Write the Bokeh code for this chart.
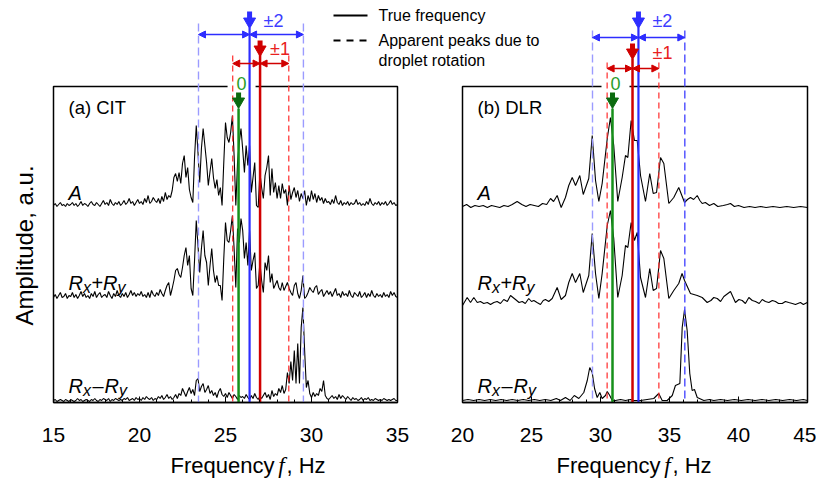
import math
from bokeh.plotting import figure
from bokeh.models import Range1d, LinearAxis, FixedTicker, Arrow, NormalHead, ColumnDataSource
from bokeh.core.properties import value
from bokeh.embed import file_html
from bokeh.resources import INLINE

# ---------------------------------------------------------------- data
# (a) CIT spectra: one amplitude value (a.u.) every 0.1 Hz from 15 Hz to 35 Hz
CIT_F0 = 15.0
CIT_DF = 0.1
CIT_A = [
    2, 4, 1, 3, 5, 2, 3, 1, 4, 2,
    3, 5, 2, 4, 1, 3, 6, 2, 4, 3,
    1, 4, 6, 3, 2, 5, 3, 1, 4, 7,
    3, 5, 2, 8, 4, 2, 5, 3, 6, 2,
    4, 7, 3, 5, 9, 4, 6, 2, 5, 8,
    4, 6, 3, 9, 5, 12, 4, 6, 10, 7,
    5, 9, 4, 11, 6, 15, 8, 12, 10, 17,
    30, 34, 26, 35, 24, 44, 52, 30, 40, 18,
    10, 5, 50, 82, 55, 25, 59, 79, 62, 45,
    22, 36, 49, 30, 19, 28, 12, 20, 2, 45,
    85, 70, 65, 75, 92, 52, 2, 45, 65, 79,
    58, 35, 62, 42, 62, 15, 30, 45, 2, 0,
    35, 20, 9, 32, 40, 52, 12, 39, 15, 25,
    9, 22, 9, 24, 14, 18, 2, 22, 8, 15,
    20, 10, 17, 6, 14, 9, 17, 2, 12, 6,
    17, 8, 14, 5, 12, 7, 10, 4, 9, 5,
    6, 3, 8, 4, 12, 5, 3, 7, 2, 5,
    3, 6, 2, 5, 3, 4, 8, 3, 5, 2,
    4, 2, 6, 3, 9, 4, 2, 5, 3, 6,
    2, 5, 3, 6, 2, 4, 7, 3, 5, 2,
    3,
]
CIT_RXPRY = [
    3, 6, 2, 5, 8, 3, 4, 7, 2, 5,
    4, 8, 3, 6, 2, 5, 9, 4, 7, 3,
    5, 2, 7, 4, 9, 3, 6, 8, 3, 5,
    6, 3, 9, 5, 2, 7, 4, 10, 5, 3,
    7, 4, 8, 3, 6, 10, 5, 8, 4, 7,
    5, 9, 4, 6, 3, 8, 3, 10, 6, 4,
    8, 5, 11, 7, 4, 10, 15, 18, 5, 12,
    20, 30, 32, 26, 23, 33, 45, 53, 35, 45,
    12, 5, 40, 80, 55, 28, 52, 70, 45, 38,
    15, 35, 52, 30, 18, 25, 15, 15, 0, 42,
    78, 60, 58, 70, 85, 52, 13, 72, 58, 82,
    70, 42, 58, 35, 70, 30, 40, 48, 12, 15,
    38, 20, 8, 38, 30, 45, 18, 27, 12, 16,
    20, 13, 10, 18, 10, 14, 18, 12, 8, 5,
    15, 18, 7, 2, 10, 25, 2, 4, 8, 13,
    10, 8, 13, 15, 6, 9, 11, 4, 7, 10,
    6, 9, 4, 8, 12, 5, 7, 3, 9, 5,
    7, 4, 10, 5, 3, 8, 6, 4, 9, 3,
    5, 8, 3, 7, 4, 10, 5, 3, 7, 4,
    6, 3, 8, 4, 6, 3, 9, 5, 8, 4,
    3,
]
CIT_RXMRY = [
    1, 2, 0, 1, 2, 1, 0, 2, 1, 0,
    2, 1, 0, 1, 3, 1, 2, 0, 1, 2,
    1, 0, 2, 1, 3, 1, 0, 2, 1, 3,
    2, 1, 3, 0, 2, 1, 3, 2, 1, 2,
    1, 3, 2, 4, 1, 2, 3, 1, 4, 2,
    3, 1, 4, 2, 5, 3, 2, 4, 1, 3,
    2, 5, 3, 6, 2, 4, 7, 3, 5, 2,
    4, 7, 3, 8, 6, 13, 9, 5, 10, 14,
    8, 12, 6, 21, 23, 10, 15, 18, 9, 12,
    16, 8, 11, 6, 9, 4, 10, 13, 7, 5,
    8, 4, 9, 6, 3, 7, 5, 2, 6, 4,
    5, 3, 7, 4, 2, 6, 3, 8, 4, 2,
    5, 3, 6, 9, 4, 7, 2, 11, 5, 8,
    6, 13, 9, 16, 8, 12, 29, 18, 40, 21,
    51, 18, 58, 18, 74, 94, 51, 14, 21, 8,
    4, 9, 5, 8, 6, 13, 10, 21, 6, 3,
    2, 4, 6, 3, 5, 2, 7, 3, 6, 4,
    2, 5, 3, 1, 4, 2, 3, 1, 2, 4,
    1, 3, 2, 4, 1, 2, 1, 3, 2, 1,
    2, 1, 3, 2, 1, 2, 1, 2, 3, 1,
    1,
]
CIT_OFFSETS = [195, 102, 1]          # vertical offset of A, Rx+Ry, Rx-Ry

# (b) DLR spectra: frequency (Hz) / amplitude (a.u.) pairs
DLR_A_F = [
    20.0, 20.3, 20.6, 20.9, 21.2, 21.5, 21.8, 22.1, 22.4, 22.7,
    23.0, 23.3, 23.6, 23.96, 24.3, 24.6, 24.9, 25.2, 25.5, 25.8,
    26.1, 26.38, 26.6, 26.86, 27.15, 27.46, 27.70, 27.95, 28.19, 28.50,
    28.75, 29.15, 29.40, 29.64, 29.88, 30.12, 30.49, 30.72, 30.96, 31.25,
    31.57, 31.81, 31.98, 32.22, 32.46, 32.66, 32.90, 33.26, 33.57, 33.82,
    34.06, 34.35, 34.59, 34.95, 35.31, 35.67, 36.09, 36.3, 36.52, 36.75,
    37.01, 37.2, 37.37, 37.6, 37.9, 38.21, 38.5, 38.9, 39.2, 39.42,
    39.7, 40.0, 40.4, 40.8, 41.2, 41.6, 42.0, 42.5, 43.0, 43.5,
    44.0, 44.5, 45.0,
]
DLR_A = [
    2, 4, 1, 3, 2, 3, 1, 3, 2, 1,
    3, 2, 4, 7, 4, 2, 4, 3, 2, 5,
    4, 10, 7, 13, 1, 11, 23, 31, 23, 33,
    14, 30, 73, 28, 7, 25, 70, 91, 63, 7,
    31, 53, 51, 88, 68, 68, 33, 7, 35, 15,
    16, 51, 45, 5, 11, 21, 6, 9, 11, 9,
    13, 8, 5, 6, 3, 5, 2, 3, 4, 5,
    2, 3, 1, 2, 1, 2, 1, 2, 1, 2,
    1, 2, 1,
]
DLR_RXPRY_F = [
    20.0, 20.34, 20.58, 20.82, 21.07, 21.3, 21.54, 21.8, 22.03, 22.27,
    22.51, 22.75, 22.99, 23.25, 23.48, 23.84, 24.1, 24.33, 24.55, 24.80,
    25.0, 25.17, 25.4, 25.65, 25.85, 26.01, 26.25, 26.50, 26.86, 27.15,
    27.46, 27.70, 27.95, 28.19, 28.50, 28.75, 29.15, 29.40, 29.64, 29.88,
    30.12, 30.49, 30.72, 30.96, 31.25, 31.57, 31.81, 31.98, 32.22, 32.46,
    32.66, 32.90, 33.26, 33.57, 33.82, 34.06, 34.35, 34.59, 34.95, 35.31,
    35.67, 35.91, 36.09, 36.52, 37.01, 37.37, 37.73, 38.0, 38.21, 38.46,
    38.70, 38.94, 39.42, 39.78, 40.03, 40.27, 40.5, 40.75, 41.0, 41.23,
    41.5, 41.72, 41.95, 42.20, 42.45, 42.68, 42.9, 43.17, 43.4, 43.64,
    43.9, 44.13, 44.3, 44.49, 44.7, 44.98,
]
DLR_RXPRY = [
    0, 8, 3, 8, 3, 4, 2, 3, 1, 3,
    4, 2, 6, 4, 10, 6, 3, 4, 2, 7,
    4, 5, 3, 1, 5, 6, 4, 7, 18, 6,
    10, 23, 32, 23, 32, 13, 30, 72, 32, 7,
    32, 80, 95, 67, 8, 30, 60, 58, 83, 65,
    73, 28, 8, 37, 15, 17, 55, 47, 7, 15,
    22, 32, 25, 12, 10, 8, 3, 5, 8, 7,
    4, 9, 14, 3, 6, 5, 2, 8, 5, 4,
    2, 6, 4, 3, 5, 4, 2, 2, 4, 3,
    2, 1, 2, 3, 1, 3,
]
DLR_RXMRY_F = [
    20.0, 20.4, 20.8, 21.2, 21.6, 22.0, 22.4, 22.8, 23.2, 23.6,
    24.0, 24.4, 24.8, 25.2, 25.6, 26.0, 26.4, 26.8, 27.1, 27.46,
    27.8, 28.1, 28.43, 28.79, 29.04, 29.22, 29.40, 29.57, 29.76, 29.95,
    30.12, 30.36, 30.49, 30.67, 30.85, 31.09, 31.45, 31.81, 32.17, 32.41,
    32.9, 33.38, 33.86, 34.22, 34.47, 34.83, 35.20, 35.43, 35.75, 35.92,
    36.09, 36.28, 36.47, 36.64, 36.81, 37.01, 37.49, 37.9, 38.21, 38.7,
    39.2, 39.7, 40.2, 40.7, 41.2, 41.7, 42.2, 42.7, 43.2, 43.7,
    44.2, 44.7, 45.0,
]
DLR_RXMRY = [
    1, 2, 1, 2, 1, 2, 1, 2, 1, 2,
    1, 2, 1, 2, 1, 2, 1, 3, 1, 4,
    1, 6, 3, 9, 21, 34, 29, 13, 4, 9,
    3, 6, 10, 6, 1, 1, 2, 1, 2, 1,
    1, 2, 3, 8, 1, 1, 6, 16, 18, 74,
    92, 71, 28, 11, 12, 4, 1, 2, 1, 2,
    1, 2, 1, 2, 1, 2, 1, 2, 1, 2,
    1, 2, 1,
]
DLR_OFFSETS = [194, 97, 1]

# true frequency of modes 0, ±1, ±2 and apparent peaks due to droplet rotation (Hz)
CIT_TRUE = {"0": 25.76, "1": 27.01, "2": 26.40}
CIT_APPARENT_1 = [25.42, 28.68]
CIT_APPARENT_2 = [23.43, 29.53]
DLR_TRUE = {"0": 30.87, "1": 32.32, "2": 32.75}
DLR_APPARENT_1 = [30.48, 34.23]
DLR_APPARENT_2 = [29.42, 36.11]

CIT_TICKS = [15, 20, 25, 30, 35]
DLR_TICKS = [20, 25, 30, 35, 40, 45]
CIT_MINOR = list(range(15, 36))
DLR_MINOR = list(range(20, 46))

# ---------------------------------------------------------------- layout (pixels)
W, H = 816, 478
AXIS_PX = 402                      # screen row of the frequency axis
CIT_BOX = (53, 397)                # screen columns of 15 Hz and 35 Hz
DLR_BOX = (462, 807)               # screen columns of 20 Hz and 45 Hz
BOX_TOP_PX = 86

FONT = value("Liberation Sans")
BLUE = "#2d2dff"
BLUE_LIGHT = "#9b9bff"
RED = "#d00000"
RED_DASH = "#ff2a2a"
GREEN = "#16901a"
GREEN_DARK = "#0b6a0f"
GREEN_TXT = "#2a9d2a"


def yv(px):
    return AXIS_PX - px


def make_range(box_px, lo, hi):
    scale = (box_px[1] - box_px[0]) / (hi - lo)
    return Range1d(lo - box_px[0] / scale, lo + (W - box_px[0]) / scale), scale


cit_range, cit_scale = make_range(CIT_BOX, CIT_TICKS[0], CIT_TICKS[-1])
dlr_range, dlr_scale = make_range(DLR_BOX, DLR_TICKS[0], DLR_TICKS[-1])


def cit_x(px):
    return CIT_TICKS[0] + (px - CIT_BOX[0]) / cit_scale


p = figure(width=W, height=H, x_range=cit_range, y_range=Range1d(yv(H), yv(0)),
           output_backend="svg", toolbar_location=None,
           x_axis_location=None, y_axis_location=None, min_border=0,
           outline_line_color=None, background_fill_color="white",
           border_fill_color="white")
p.extra_x_ranges = {"dlr": dlr_range}
p.grid.visible = False


def draw_panel(rn, lo, hi, ticks, minor, title, spectra, offsets, true_f, app1, app2,
               app2_colors, layout):
    # frame
    p.quad(left=[lo], right=[hi], bottom=[0], top=[yv(BOX_TOP_PX)], fill_color=None,
           line_color="black", line_width=1.5, x_range_name=rn)
    # "0" label interrupting the frame
    p.text(x=[true_f["0"]], y=[yv(83)], text=["0"], x_offset=3, text_align="center",
           text_baseline="middle", text_font=FONT, text_font_size="18px",
           text_color=GREEN_TXT, background_fill_color="white", padding=9,
           x_range_name=rn)
    # spectra
    for (fs, amps), off in zip(spectra, offsets):
        p.line(x=fs, y=[off + a for a in amps], line_color="black", line_width=1.1,
               x_range_name=rn)
    # apparent peaks (dashed)
    p.segment(x0=app2, x1=app2, y0=[yv(layout["b_dash_top"])] * 2, y1=[0, 0],
              line_color=app2_colors, line_width=1.4, line_dash="8 4", x_range_name=rn)
    p.segment(x0=app1, x1=app1, y0=[yv(layout["r_dash_top"])] * 2, y1=[0, 0],
              line_color=RED_DASH, line_width=1.2, line_dash="6 4", x_range_name=rn)
    # true frequencies
    p.segment(x0=[true_f["0"]], x1=[true_f["0"]], y0=[yv(108)], y1=[0],
              line_color=GREEN, line_width=2.5, x_range_name=rn)
    p.segment(x0=[true_f["2"]], x1=[true_f["2"]], y0=[yv(27)], y1=[0],
              line_color=BLUE, line_width=2.2, x_range_name=rn)
    p.segment(x0=[true_f["1"]], x1=[true_f["1"]], y0=[yv(layout["r_top"])], y1=[0],
              line_color=RED, line_width=2.5, x_range_name=rn)
    # block arrows
    for key, col, (s0, s1, tri) in (("2", BLUE, (11, 19, 21)),
                                    ("1", RED, layout["r_block"]),
                                    ("0", GREEN_DARK, (92, 99, 101))):
        p.segment(x0=[true_f[key]], x1=[true_f[key]], y0=[yv(s0)], y1=[yv(s1)],
                  line_color=col, line_width=5, x_range_name=rn)
        p.scatter(x=[true_f[key]], y=[yv(tri)], marker="inverted_triangle", size=12,
                  fill_color=col, line_color=col, x_range_name=rn)
    # double arrows
    for f_true, apps, col, ypx in ((true_f["2"], app2, BLUE, layout["b_arrow"]),
                                   (true_f["1"], app1, RED, layout["r_arrow"])):
        src = ColumnDataSource(dict(x0=[f_true, f_true], x1=apps,
                                    y=[yv(ypx), yv(ypx)]))
        p.add_layout(Arrow(x_start="x0", y_start="y", x_end="x1", y_end="y",
                           source=src, line_color=col, line_width=1.5,
                           start=NormalHead(size=7, fill_color=col, line_color=col),
                           end=NormalHead(size=7, fill_color=col, line_color=col),
                           x_range_name=rn))
    p.text(x=[true_f["2"]], y=[yv(20)], text=["\u00b12"], x_offset=14,
           text_baseline="middle", text_font=FONT, text_font_size="18px",
           text_color="#3d3dff", x_range_name=rn)
    p.text(x=[true_f["1"]], y=[yv(layout["r_label"])], text=["\u00b11"],
           x_offset=layout["r_label_dx"], text_baseline="middle", text_font=FONT,
           text_font_size="18px", text_color="#e82020", x_range_name=rn)
    # panel title and trace labels
    p.text(x=[lo], y=[yv(107)], text=[title], x_offset=15, text_baseline="middle",
           text_font=FONT, text_font_size="18.5px", text_color="black", x_range_name=rn)
    lab = dict(text_font=FONT, text_color="black", text_font_style="italic",
               text_baseline="alphabetic", x_range_name=rn)
    p.text(x=[lo], y=[yv(192)], text=["A"], x_offset=15, text_font_size="20px", **lab)
    for base_px, op, pos in ((282, "+", (0, 14.5, 23, 34.5, 49)),
                             (385, "\u2013", (0, 14.5, 24, 36, 50.5))):
        yb = yv(base_px)
        p.text(x=[lo, lo], y=[yb, yb], text=["R", "R"],
               x_offset=[15 + pos[0], 15 + pos[3]], text_font_size="20px", **lab)
        p.text(x=[lo, lo], y=[yb, yb], text=["x", "y"],
               x_offset=[15 + pos[1], 15 + pos[4]], y_offset=5,
               text_font_size="16px", **lab)
        p.text(x=[lo], y=[yb], text=[op], x_offset=15 + pos[2], text_font=FONT,
               text_font_size="20px", text_color="black", text_baseline="alphabetic",
               x_range_name=rn)
    # axis
    ax = LinearAxis(fixed_location=0, bounds=(lo, hi), x_range_name=rn,
                    ticker=FixedTicker(ticks=ticks, minor_ticks=minor))
    ax.axis_line_width = 1.5
    ax.axis_line_color = "black"
    ax.major_tick_in = 6
    ax.major_tick_out = 0
    ax.minor_tick_in = 3
    ax.minor_tick_out = 0
    ax.major_tick_line_color = "black"
    ax.minor_tick_line_color = "black"
    ax.major_label_text_font = "Liberation Sans"
    ax.major_label_text_font_size = "21px"
    ax.major_label_text_color = "black"
    ax.major_label_standoff = 25
    p.add_layout(ax, "below")
    # axis title: Frequency f, Hz
    fx = layout["f_x"]
    ya = yv(465)
    p.text(x=[fx], y=[ya], text=["Frequency"], x_offset=-7, text_align="right",
           text_baseline="middle", text_font=FONT, text_font_size="22px",
           text_color="black", x_range_name=rn)
    p.text(x=[fx], y=[ya], text=["f"], text_align="center", text_baseline="middle",
           text_font=value("Liberation Serif"), text_font_style="italic",
           text_font_size="23px", text_color="black", x_range_name=rn)
    p.text(x=[fx], y=[ya], text=[", Hz"], x_offset=5, text_align="left",
           text_baseline="middle", text_font=FONT, text_font_size="22px",
           text_color="black", x_range_name=rn)


cit_freq = [round(CIT_F0 + CIT_DF * i, 2) for i in range(len(CIT_A))]
draw_panel("default", CIT_TICKS[0], CIT_TICKS[-1], CIT_TICKS, CIT_MINOR, "(a) CIT",
           [(cit_freq, CIT_A), (cit_freq, CIT_RXPRY), (cit_freq, CIT_RXMRY)],
           CIT_OFFSETS, CIT_TRUE, CIT_APPARENT_1, CIT_APPARENT_2,
           [BLUE_LIGHT, BLUE_LIGHT],
           dict(b_dash_top=23, r_dash_top=55, r_top=54, r_block=(40, 47, 49),
                b_arrow=34, r_arrow=63, r_label=48, r_label_dx=10,
                f_x=15 + (281 - CIT_BOX[0]) / cit_scale))
draw_panel("dlr", DLR_TICKS[0], DLR_TICKS[-1], DLR_TICKS, DLR_MINOR, "(b) DLR",
           [(DLR_A_F, DLR_A), (DLR_RXPRY_F, DLR_RXPRY), (DLR_RXMRY_F, DLR_RXMRY)],
           DLR_OFFSETS, DLR_TRUE, DLR_APPARENT_1, DLR_APPARENT_2,
           [BLUE_LIGHT, "#4a4aff"],
           dict(b_dash_top=30, r_dash_top=62, r_top=58, r_block=(43, 50, 52),
                b_arrow=37, r_arrow=68, r_label=52, r_label_dx=20,
                f_x=20 + (667 - DLR_BOX[0]) / dlr_scale))

# y-axis title
p.text(x=[cit_x(24)], y=[yv(245)], text=["Amplitude, a.u."], angle=math.pi / 2,
       text_align="center", text_baseline="middle", text_font=FONT,
       text_font_size="24px", text_color="black")

# legend
p.segment(x0=[cit_x(333)], x1=[cit_x(367)], y0=[yv(15)], y1=[yv(15)],
          line_color="black", line_width=2)
p.segment(x0=[cit_x(333)], x1=[cit_x(367)], y0=[yv(40)], y1=[yv(40)],
          line_color="black", line_width=2, line_dash="7 6")
p.text(x=[cit_x(378)] * 3, y=[yv(15), yv(40), yv(60)],
       text=["True frequency", "Apparent peaks due to", "droplet rotation"],
       text_baseline="middle", text_font=FONT, text_font_size="16px",
       text_color="black")

open("out.html", "w").write(file_html(p, INLINE))
